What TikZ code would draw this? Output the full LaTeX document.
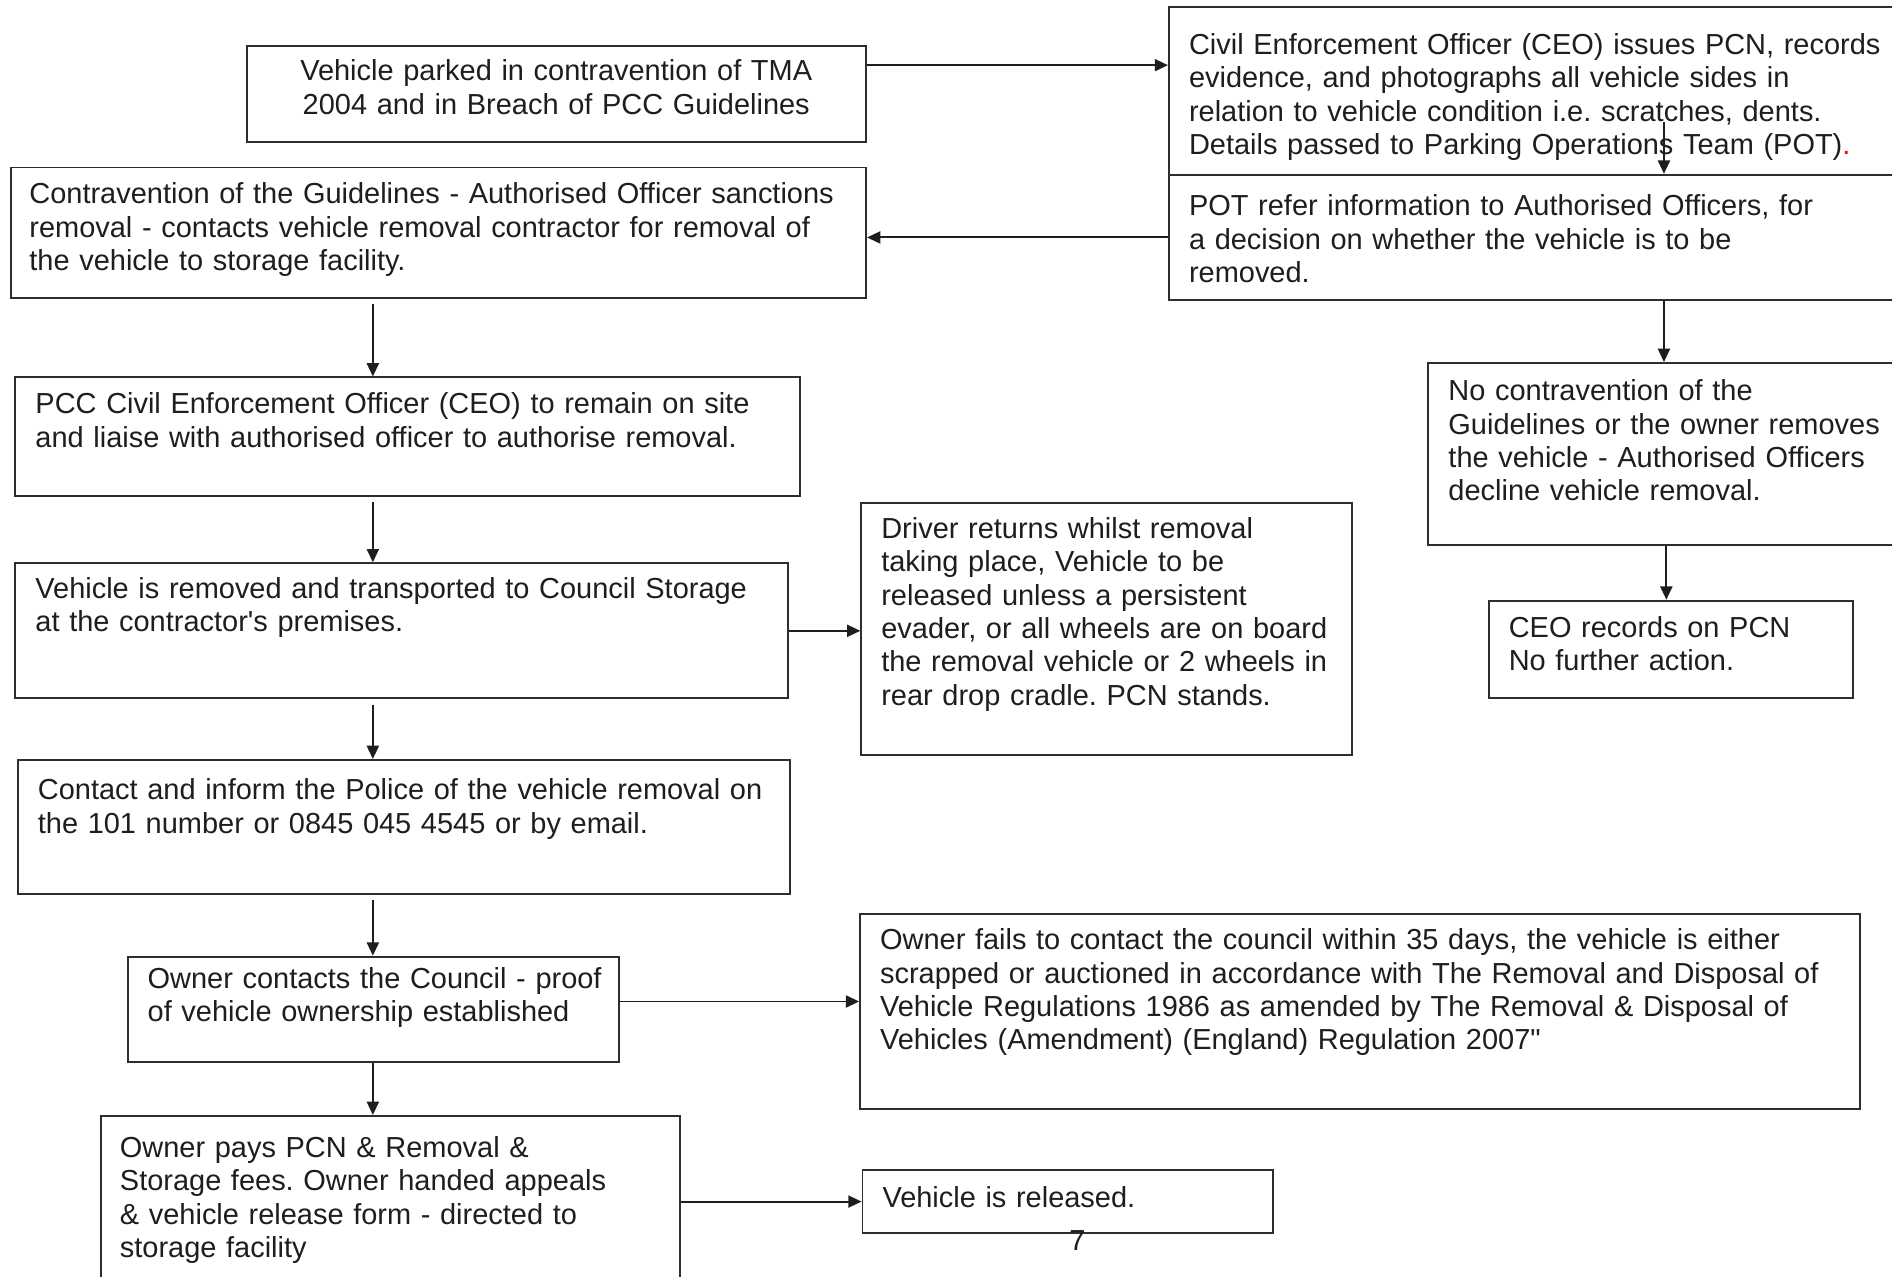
\documentclass[tikz,border=0pt]{standalone}
\usepackage{fontspec}
\setmainfont{Liberation Sans}
\usetikzlibrary{arrows.meta}
\definecolor{ink}{HTML}{1E1E1E}
\definecolor{edge}{HTML}{2E2E2E}
\frenchspacing
\tikzset{
  box/.style={draw=edge, line width=0.8pt, inner sep=0pt, anchor=north west},
  txt/.style={anchor=base west, inner sep=0pt, text width=420pt, align=left,
              font=\fontsize{12}{13.85}\selectfont\frenchspacing, text=ink},
  arr/.style={draw=ink, line width=0.8pt, -{Triangle[length=5.5pt,width=5pt]}},
}
\begin{document}
\begin{tikzpicture}[x=0.5pt,y=-0.5pt]
\useasboundingbox (0,0) rectangle (1568,1058);
\fill[white] (0,0) rectangle (1568,1058);
\clip (0,0) rectangle (1568,1058);

% boxes
\node[box, minimum width=256.5pt, minimum height=40pt]   (b1)  at (204,37)  {};
\node[box, minimum width=303.5pt, minimum height=69.5pt] (b2)  at (968,5)   {};
\node[box, minimum width=303.5pt, minimum height=52pt]   (b3)  at (968,144) {};
\node[box, minimum width=354.5pt, minimum height=54pt]   (b4)  at (8,138)   {};
\node[box, minimum width=325pt,   minimum height=49pt]   (b5)  at (12,312)  {};
\node[box, minimum width=320pt,   minimum height=56pt]   (b6)  at (12,466)  {};
\node[box, minimum width=203.5pt, minimum height=104.5pt](b7)  at (713,416) {};
\node[box, minimum width=196pt,   minimum height=75.5pt] (b8)  at (1183,300){};
\node[box, minimum width=151pt,   minimum height=40.5pt] (b9)  at (1233,497){};
\node[box, minimum width=320pt,   minimum height=55.5pt] (b10) at (14,629)  {};
\node[box, minimum width=203.5pt, minimum height=43.5pt] (b11) at (105,792) {};
\node[box, minimum width=414.5pt, minimum height=80.5pt] (b12) at (712,757) {};
\node[box, minimum width=240pt,   minimum height=73pt]   (b13) at (83,924)  {};
\node[box, minimum width=170pt,   minimum height=26pt]   (b14) at (714,969) {};

% texts
\node[txt, anchor=base, text width=256pt, align=center] (t1) at (461,67)
  {Vehicle parked in contravention of TMA\\2004 and in Breach of PCC Guidelines};
\node[txt] (t2) at (985,45)
  {Civil Enforcement Officer (CEO) issues PCN, records\\evidence, and photographs all vehicle sides in\\relation to vehicle condition i.e. scratches, dents.\\Details passed to Parking Operations Team (POT)\textcolor{red}{.}};
\node[txt] (t3) at (985,179)
  {POT refer information to Authorised Officers, for\\a decision on whether the vehicle is to be\\removed.};
\node[txt] (t4) at (24,169)
  {Contravention of the Guidelines - Authorised Officer sanctions\\removal - contacts vehicle removal contractor for removal of\\the vehicle to storage facility.};
\node[txt] (t5) at (29,343)
  {PCC Civil Enforcement Officer (CEO) to remain on site\\and liaise with authorised officer to authorise removal.};
\node[txt] (t6) at (29,496)
  {Vehicle is removed and transported to Council Storage\\at the contractor\textquotesingle s premises.};
\node[txt] (t7) at (730,446)
  {Driver returns whilst removal\\taking place, Vehicle to be\\released unless a persistent\\evader, or all wheels are on board\\the removal vehicle or 2 wheels in\\rear drop cradle. PCN stands.};
\node[txt] (t8) at (1200,332)
  {No contravention of the\\Guidelines or the owner removes\\the vehicle - Authorised Officers\\decline vehicle removal.};
\node[txt] (t9) at (1250,528)
  {CEO records on PCN\\No further action.};
\node[txt] (t10) at (31,663)
  {Contact and inform the Police of the vehicle removal on\\the 101 number or 0845 045 4545 or by email.};
\node[txt] (t11) at (122,819)
  {Owner contacts the Council - proof\\of vehicle ownership established};
\node[txt] (t12) at (729,787)
  {Owner fails to contact the council within 35 days, the vehicle is either\\scrapped or auctioned in accordance with The Removal and Disposal of\\Vehicle Regulations 1986 as amended by The Removal \& Disposal of\\Vehicles (Amendment) (England) Regulation 2007\textquotedbl};
\node[txt] (t13) at (99,959)
  {Owner pays PCN \& Removal \&\\Storage fees. Owner handed appeals\\\& vehicle release form - directed to\\storage facility};
\node[txt] (t14) at (731,1001) {Vehicle is released.};
\node[anchor=base, inner sep=0pt, font=\fontsize{12}{13.85}\selectfont, text=ink] (pg) at (893,1036) {7};

% helper coordinates
\coordinate (ya) at (0,54);
\coordinate (yb) at (0,830);
\coordinate (xl) at (309,0);
\coordinate (c1) at (1379,101);
\coordinate (xr) at (1381,0);

% connectors
\draw[arr] (b1.east |- ya) -- (b2.west |- ya);
\draw[arr] (c1) -- (c1 |- b3.north);
\draw[arr] (b3.west) -- (b3.west -| b4.east);
\draw[arr] (b3.south -| c1) -- (b8.north -| c1);
\draw[arr] (b8.south -| xr) -- (b9.north -| xr);
\draw[arr, shorten <=2.2pt] (b4.south -| xl) -- (b5.north -| xl);
\draw[arr, shorten <=2.2pt] (b5.south -| xl) -- (b6.north -| xl);
\draw[arr, shorten <=2.2pt] (b6.south -| xl) -- (b10.north -| xl);
\draw[arr] (b6.east) -- (b6.east -| b7.west);
\draw[arr, shorten <=2pt] (b10.south -| xl) -- (b11.north -| xl);
\draw[arr] (b11.east |- yb) -- (b12.west |- yb);
\draw[arr] (b11.south -| xl) -- (b13.north -| xl);
\draw[arr] (b14.west -| b13.east) -- (b14.west);
\end{tikzpicture}
\end{document}
